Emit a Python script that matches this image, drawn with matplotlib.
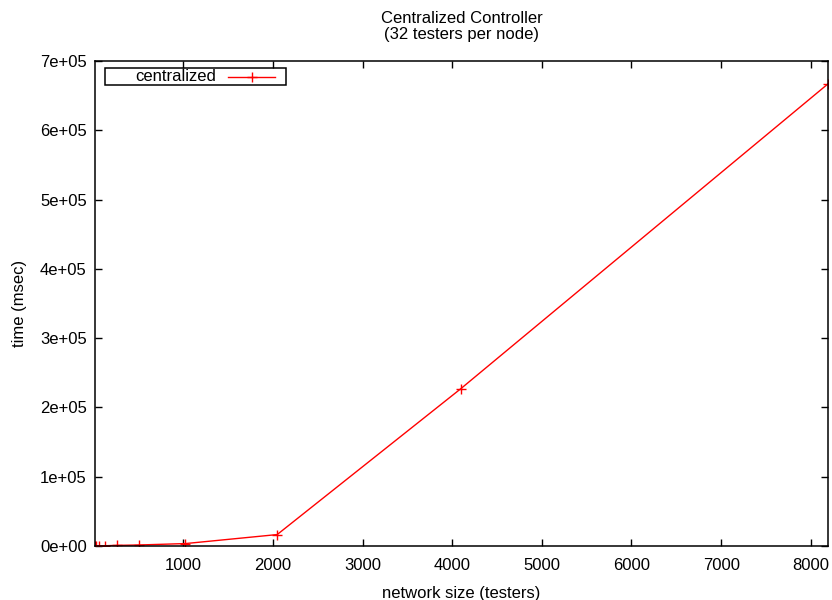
import matplotlib
matplotlib.use("Agg")
import matplotlib.pyplot as plt
from matplotlib.patches import Rectangle
from matplotlib.ticker import FuncFormatter, MultipleLocator

plt.rcParams['font.family'] = ['Liberation Sans', 'DejaVu Sans']

# network size (testers) vs. time (msec)
sizes = [16, 32, 64, 128, 256, 512, 1024, 2048, 4096, 8192]
times = [50, 100, 200, 400, 900, 1500, 3500, 16500, 227000, 667000]

fig = plt.figure(figsize=(8.32, 6.0), dpi=100)
ax = fig.add_axes([95 / 832, 1 - 546 / 600, (828 - 95) / 832, (546 - 61) / 600])

ax.plot(sizes, times, color="red", lw=1, marker="+", ms=7, mew=1, label="centralized")

ax.set_xlim(16, 8192)
ax.set_ylim(0, 7e5)
ax.set_xticks(range(1000, 9000, 1000))
ax.yaxis.set_major_locator(MultipleLocator(1e5))
ax.yaxis.set_major_formatter(FuncFormatter(lambda v, p: f"{v:.0e}"))
ax.tick_params(direction="in", top=True, right=True, length=5, width=1, labelsize=12, pad=6)
ax.tick_params(axis="x", pad=9)
for s in ax.spines.values():
    s.set_linewidth(1.1)

ax.set_xlabel("network size (testers)", fontsize=12, labelpad=9)
ax.set_ylabel("time (msec)", fontsize=12, labelpad=9)
ax.set_title("Centralized Controller\n(32 testers per node)", fontsize=12, pad=16, linespacing=1.05)

# gnuplot-style key: label first, then sample line, inside a thin box
tr = ax.transAxes
ax.add_patch(Rectangle((0.0136, 0.9505), 0.247, 0.0351, transform=tr, fill=False,
                       edgecolor="black", lw=1.1, zorder=5))
ax.text(0.0546, 0.968, "centralized", transform=tr, ha="left", va="center", fontsize=12)
ax.plot([0.1814, 0.2456], [0.968, 0.968], transform=tr, color="red", lw=1)
ax.plot([0.214], [0.968], transform=tr, color="red", marker="+", ms=7, mew=1)

fig.savefig("out.png", dpi=100)
